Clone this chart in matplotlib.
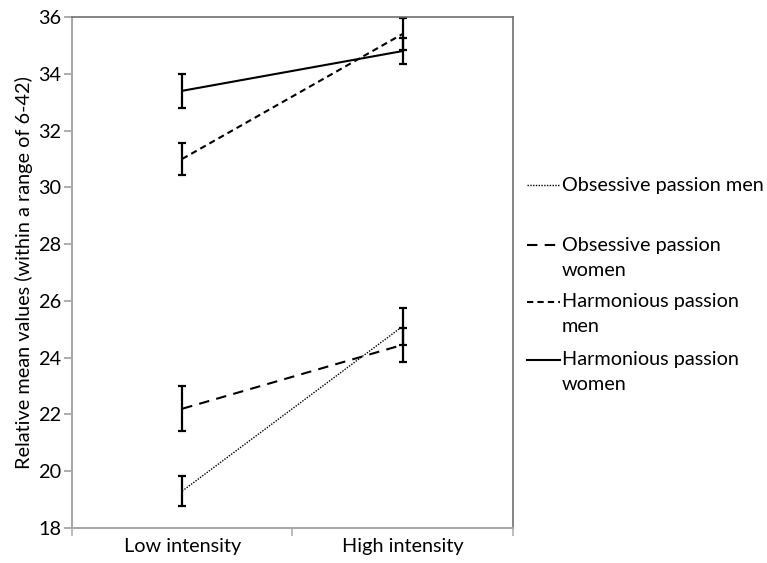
import matplotlib
matplotlib.use("Agg")
import matplotlib.pyplot as plt
from matplotlib.lines import Line2D

plt.rcParams['font.family'] = ['Lato', 'DejaVu Sans']

categories = ['Low intensity', 'High intensity']
series_names = ['Obsessive passion men', 'Obsessive passion\nwomen',
                'Harmonious passion\nmen', 'Harmonious passion\nwomen']
op_men = [19.3, 25.1]
op_men_err = [0.52, 0.65]
op_women = [22.2, 24.45]
op_women_err = [0.8, 0.6]
hp_men = [31.0, 35.4]
hp_men_err = [0.55, 0.55]
hp_women = [33.4, 34.8]
hp_women_err = [0.6, 0.45]
y_ticks = [18, 20, 22, 24, 26, 28, 30, 32, 34, 36]

styles = [
    dict(linestyle=(0, (1, 1)), lw=1.0),
    dict(linestyle=(0, (5, 3.5)), lw=1.5),
    dict(linestyle=(0, (3, 2)), lw=1.5),
    dict(linestyle='-', lw=1.5),
]
values = [op_men, op_women, hp_men, hp_women]
errors = [op_men_err, op_women_err, hp_men_err, hp_women_err]
fs = 14.3

fig = plt.figure(figsize=(7.67, 5.63), dpi=100)
ax = fig.add_axes([0.0939, 0.0622, 0.5745, 0.9076])

xs = [0, 1]
for vals, errs, st in zip(values, errors, styles):
    ax.plot(xs, vals, color='black', **st)
    ax.errorbar(xs, vals, yerr=errs, fmt='none', ecolor='black',
                elinewidth=1.6, capsize=2.6, capthick=1.6)

ax.set_xlim(-0.5, 1.5)
ax.set_ylim(18, 36)
ax.set_yticks(y_ticks)
ax.set_xticks(xs)
ax.set_xticklabels(categories)
ax.set_xticks([-0.5, 0.5, 1.5], minor=True)
ax.tick_params(axis='x', which='major', length=0, labelsize=fs, pad=7)
ax.tick_params(axis='x', which='minor', length=6, color='#b0b0b0', width=1.2)
ax.tick_params(axis='y', length=6, color='#a0a0a0', width=1.2, labelsize=fs, pad=2)
ax.set_ylabel('Relative mean values (within a range of 6-42)', fontsize=fs, labelpad=3)

for side in ['left', 'bottom']:
    ax.spines[side].set_color('#a8a8a8')
    ax.spines[side].set_linewidth(1.5)
for side in ['top', 'right']:
    ax.spines[side].set_color('#707070')
    ax.spines[side].set_linewidth(1.2)

# legend drawn by hand to follow the original spacing
W, H = 767, 563
leg_rows = [185, 245, 302, 360]
for name, st, row in zip(series_names, styles, leg_rows):
    yf = 1 - row / H
    fig.add_artist(Line2D([527 / W, 560 / W], [yf, yf], color='black',
                          transform=fig.transFigure, **st))
    fig.text(562 / W, yf, name.split('\n')[0], ha='left', va='center', fontsize=fs)
    if '\n' in name:
        fig.text(562 / W, yf - 25 / H, name.split('\n')[1], ha='left',
                 va='center', fontsize=fs)

fig.savefig('out.png', dpi=100)
